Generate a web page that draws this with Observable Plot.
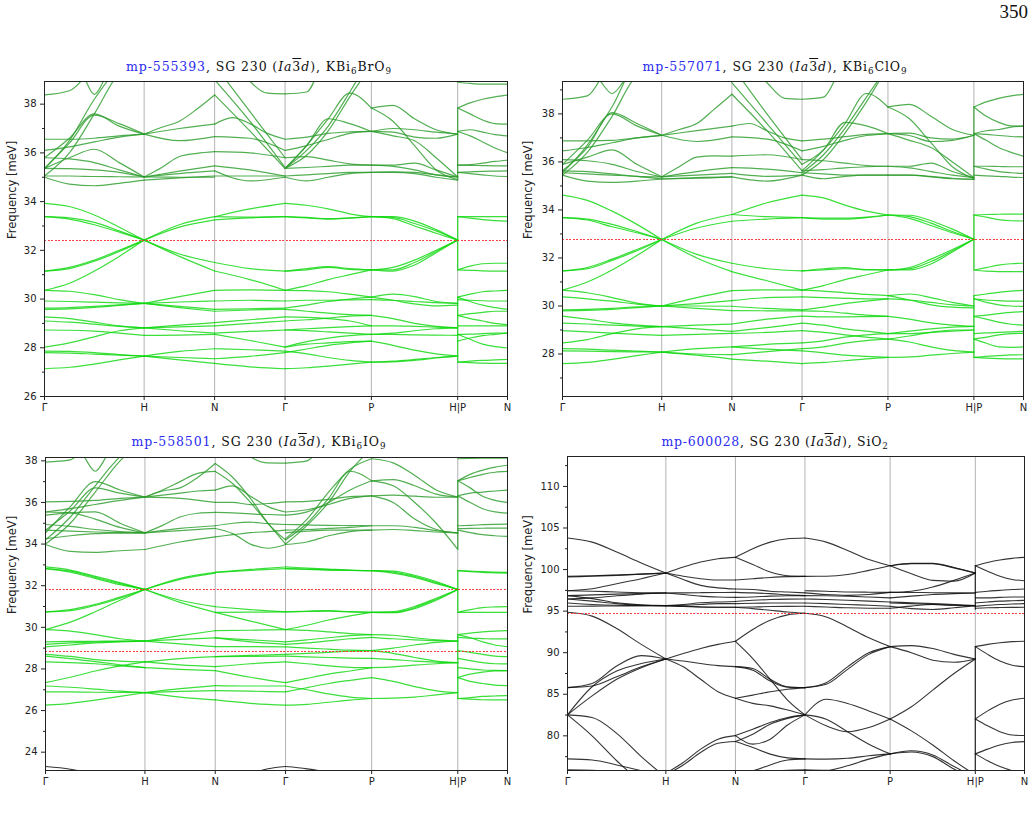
<!DOCTYPE html>
<html><head><meta charset="utf-8">
<script src="https://cdn.jsdelivr.net/npm/d3@7"></script>
<script src="https://cdn.jsdelivr.net/npm/@observablehq/plot@0.6"></script>
<style>
body{margin:0;background:#fff;}
#page{position:relative;width:1033px;height:823px;overflow:hidden;background:#fff;}
.panel{position:absolute;}
.title{position:absolute;width:500px;text-align:center;font-family:"DejaVu Serif",serif;font-size:12.5px;line-height:16px;height:16px;color:#111;white-space:nowrap;}
.title .mp{color:#2b2bf0;}
.title sub{font-size:0.7em;vertical-align:-0.3em;line-height:0;}
.ob{text-decoration:overline;}
#pg{position:absolute;left:990px;width:38px;text-align:right;top:1px;font-family:"Liberation Serif",serif;font-size:19px;color:#111;}
</style></head>
<body><div id="page"><div id="pg">350</div></div>
<script>
// ---- path (k-distance) ticks ----
const kTicks = [0, 1, 1.7071, 2.4142, 3.2802, 4.1463, 4.6463];
const kLabels = ["Γ", "H", "N", "Γ", "P", "H|P", "N"];

// ---- titles ----
const titleIds = ["mp-555393", "mp-557071", "mp-558501", "mp-600028"];
const titleFormulas = ["KBi<sub>6</sub>BrO<sub>9</sub>", "KBi<sub>6</sub>ClO<sub>9</sub>", "KBi<sub>6</sub>IO<sub>9</sub>", "SiO<sub>2</sub>"];

// ---- bands: [segment, values evenly spaced along the segment ...] ----
const brBands = [
[0,33.93,33.8,33.45,32.95,32.42],[0,33.38,33.33,33.15,32.8,32.42],[0,33.38,33.28,33.05,32.75,32.42],
[0,31.15,31.3,31.6,32.0,32.42],[0,31.15,31.25,31.55,31.95,32.42],[0,30.36,30.65,31.15,31.75,32.42],
[0,30.36,30.32,30.18,29.98,29.82],[0,29.92,29.9,29.87,29.84,29.82],[0,29.63,29.65,29.7,29.76,29.82],
[0,29.58,29.6,29.66,29.74,29.82],[0,29.27,29.2,29.05,28.9,28.82],[0,29.1,29.05,28.97,28.88,28.82],
[0,28.73,28.72,28.68,28.6,28.51],[0,28.03,28.2,28.45,28.7,28.82],[0,27.86,27.85,27.8,27.72,27.66],
[0,27.8,27.78,27.74,27.7,27.66],[0,27.14,27.2,27.33,27.5,27.66],
[0,38.38,38.55,39.5,40,40],[0,40,40,40,39.3,38.4,39.2,40,40,40],[0,35.36,36.5,38.2,39.5,40],
[0,35.05,36.0,37.6,39.3,40],[0,35.36,36.4,37.55,37.2,36.77],[0,35.8,36.6,37.6,37.1,36.77],
[0,35.36,35.8,36.15,35.6,35.01],[0,35.8,35.75,35.6,35.3,35.01],[0,36.56,36.56,36.6,36.7,36.77],
[0,36.1,36.25,36.45,36.65,36.77],[0,35.05,35.05,35.03,35.02,35.01],[0,35.0,34.72,34.65,34.75,34.88],
[0,35.36,35.35,35.3,35.2,35.01],
[1,32.42,33.05,33.38],[1,32.42,32.95,33.25],[1,32.42,31.85,31.5],[1,32.42,31.75,31.15],
[1,29.82,30.1,30.36],[1,29.82,29.88,29.92],[1,29.82,29.7,29.58],[1,29.82,29.65,29.5],
[1,28.82,28.93,29.03],[1,28.82,28.86,28.9],[1,28.82,28.7,28.6],[1,28.51,28.52,28.55],
[1,27.66,27.85,27.96],[1,27.66,27.5,27.36],[1,27.66,27.6,27.55],
[1,36.77,37.05,37.3,37.8,38.38],[1,36.77,37.0,37.18],[1,36.77,36.5,36.67],[1,35.01,35.4,35.85,35.98,36.05],
[1,35.01,35.25,35.47],[1,35.01,35.15,35.26],[1,34.88,34.97,35.05],[1,35.01,35.0,35.0],
[2,33.38,33.7,33.93],[2,33.25,33.33,33.38],[2,33.38,33.36,33.38],[2,31.5,31.25,31.15],[2,31.15,30.8,30.36],
[2,30.36,30.38,30.36],[2,29.92,29.95,29.92],[2,29.58,29.6,29.63],[2,29.5,29.55,29.58],
[2,29.03,29.15,29.27],[2,28.9,29.0,29.1],[2,28.6,28.67,28.73],[2,28.55,28.3,28.03],
[2,27.96,27.92,27.86],[2,27.55,27.65,27.8],[2,27.36,27.22,27.14],
[2,38.38,36.9,35.36],[2,39.0,37.3,35.4],[2,39.6,37.7,35.8],[2,37.18,37.45,37.2,36.8,36.56],
[2,36.67,36.6,36.1],[2,36.05,36.0,35.8],[2,35.47,35.3,35.05],[2,35.26,34.85,35.0],[2,35.05,35.05,35.05],
[2,40,40,38.95,38.45,38.42],
[3,33.93,33.85,33.7,33.5,33.38],[3,33.38,33.35,33.3,33.33,33.38],[3,33.38,33.33,33.28,33.32,33.38],
[3,31.15,31.25,31.33,31.25,31.2],[3,31.15,31.2,31.3,31.22,31.2],[3,30.36,30.55,30.8,31.0,31.2],
[3,30.36,30.35,30.3,30.2,30.08],[3,29.92,29.95,29.95,29.97,29.98],[3,29.63,29.75,29.9,30.0,30.08],
[3,29.58,29.5,29.42,29.36,29.33],[3,29.27,29.25,29.2,29.1,28.9],[3,29.1,29.15,29.22,29.3,29.33],
[3,28.73,28.7,28.65,28.6,28.55],[3,28.73,28.78,28.83,28.87,28.9],[3,28.03,28.25,28.4,28.5,28.55],
[3,28.03,28.15,28.2,28.25,28.27],[3,27.86,27.75,27.6,27.48,27.41],[3,27.8,27.95,28.1,28.2,28.27],
[3,27.14,27.18,27.25,27.33,27.41],
[3,38.42,38.5,40,40,40],[3,35.36,36.3,37.4,38.45,37.84],[3,35.36,36.1,37.1,38.5,40],
[3,35.36,35.9,36.9,38.3,39.6],[3,36.56,36.65,36.8,36.86,36.88],[3,36.1,36.3,36.55,36.8,36.88],
[3,35.8,35.85,35.7,35.55,35.5],[3,35.36,36.3,37.4,37.2,36.88],[3,35.36,35.4,35.45,35.5,35.5],
[3,35.05,35.1,35.15,35.2,35.2],[3,35.0,34.85,35.0,35.15,35.2],
[4,33.38,33.38,33.2,32.85,32.42],[4,33.38,33.35,33.1,32.8,32.42],[4,33.38,33.3,33.0,32.7,32.42],
[4,31.2,31.3,31.6,32.0,32.42],[4,31.2,31.2,31.5,31.95,32.42],[4,31.2,31.15,31.4,31.9,32.42],
[4,30.08,30.2,30.1,29.9,29.82],[4,29.98,29.95,29.9,29.85,29.82],[4,30.08,29.95,29.8,29.72,29.75],
[4,29.33,29.2,29.0,28.88,28.82],[4,28.9,28.9,28.88,28.85,28.82],[4,28.55,28.6,28.7,28.78,28.82],
[4,28.55,28.55,28.53,28.52,28.51],[4,28.27,28.1,27.9,27.75,27.66],[4,27.41,27.42,27.48,27.58,27.66],
[4,27.41,27.45,27.52,27.6,27.66],
[4,37.84,37.95,37.4,36.95,36.77],[4,37.84,37.3,36.3,35.3,34.9],[4,36.88,36.85,36.65,36.6,36.77],
[4,36.88,37.0,36.95,36.85,36.77],[4,36.88,36.7,36.5,35.8,35.01],[4,35.5,35.5,35.58,35.3,35.01],
[4,35.5,35.45,35.3,35.1,35.01],[4,35.2,35.2,35.15,35.0,34.88],[4,35.2,35.22,35.2,35.1,35.01],
[5,37.84,38.05,38.2,38.3,38.37],[5,37.84,37.6,37.35,37.2,37.18],[5,36.88,36.95,36.85,36.75,36.7],
[5,36.88,36.7,36.45,36.2,36.0],[5,35.5,35.52,35.58,35.65,35.7],[5,35.5,35.49,35.48,35.47,35.47],
[5,35.2,35.22,35.24,35.25,35.26],[5,35.2,35.15,35.1,35.05,35.03],[5,38.9,38.85,38.82,38.82,38.82],
[5,33.38,33.38,33.38,33.38,33.38],[5,33.38,33.32,33.26,33.22,33.2],[5,31.2,31.35,31.45,31.47,31.47],
[5,31.2,31.18,31.16,31.15,31.15],[5,30.08,30.2,30.3,30.33,30.36],[5,29.98,29.95,29.93,29.92,29.92],
[5,30.08,29.9,29.75,29.65,29.58],[5,29.33,29.4,29.45,29.5,29.5],[5,29.33,29.2,29.1,29.0,28.95],
[5,28.9,28.9,28.9,28.9,28.9],[5,28.55,28.56,28.58,28.6,28.6],[5,28.55,28.35,28.15,28.05,28.0],
[5,28.27,28.4,28.5,28.55,28.6],[5,27.41,27.45,27.48,27.5,27.52],[5,27.41,27.39,27.37,27.36,27.36]
];
const brJumps = [[31.2, 33.38], [27.41, 30.08], [34.88, 37.84]];
const brRefs = [32.42];

const clBands = [
[0,34.62,34.4,33.95,33.4,32.77],[0,33.68,33.62,33.4,33.1,32.77],[0,33.68,33.58,33.3,33.05,32.77],
[0,31.46,31.6,31.95,32.35,32.77],[0,31.46,31.55,31.9,32.3,32.77],[0,30.66,31.0,31.5,32.1,32.77],
[0,30.66,30.55,30.35,30.12,30.0],[0,30.38,30.3,30.2,30.08,30.0],[0,29.84,29.86,29.9,29.96,30.0],
[0,29.8,29.82,29.86,29.93,30.0],[0,29.58,29.45,29.3,29.2,29.14],[0,29.29,29.25,29.2,29.16,29.14],
[0,28.97,28.92,28.87,28.82,28.78],[0,28.46,28.6,28.85,29.05,29.14],[0,28.22,28.2,28.16,28.12,28.08],
[0,28.13,28.12,28.1,28.09,28.08],[0,27.6,27.65,27.78,27.93,28.08],
[0,38.61,38.75,40,40,40],[0,40,40,40,39.4,38.85,39.4,40,40,40],[0,35.55,36.7,38.3,40,40],
[0,35.45,36.4,37.9,39.6,40],[0,35.63,36.6,38.05,37.6,37.11],[0,35.9,36.9,38.0,37.5,37.11],
[0,36.88,36.88,36.9,37.0,37.11],[0,36.46,36.6,36.8,37.0,37.11],[0,35.9,36.2,36.5,35.9,35.38],
[0,36.1,36.05,35.9,35.6,35.38],[0,35.63,35.6,35.5,35.4,35.38],[0,35.55,35.5,35.45,35.4,35.29],
[0,35.45,35.2,35.15,35.2,35.29],
[1,32.77,33.45,33.81],[1,32.77,33.25,33.53],[1,32.77,32.15,31.78],[1,32.77,32.0,31.43],
[1,30.0,30.35,30.64],[1,30.0,30.1,30.22],[1,30.0,30.0,29.99],[1,30.0,29.9,29.81],
[1,29.14,29.2,29.25],[1,29.14,29.05,28.94],[1,28.78,28.82,28.86],[1,28.08,28.22,28.3],
[1,28.08,27.95,27.79],[1,28.08,28.0,27.97],
[1,37.11,37.35,37.6,38.2,38.82],[1,37.11,37.3,37.49],[1,37.11,36.85,37.04],[1,35.38,35.8,36.2,36.25,36.24],
[1,35.38,35.6,35.76],[1,35.38,35.45,35.52],[1,35.29,35.35,35.38],[1,35.29,35.32,35.38],
[2,33.81,34.3,34.62],[2,33.53,33.62,33.68],[2,33.81,33.72,33.68],[2,31.78,31.55,31.46],
[2,31.43,31.05,30.66],[2,30.64,30.67,30.66],[2,30.22,30.35,30.38],[2,29.99,29.9,29.84],
[2,29.81,29.8,29.8],[2,29.25,29.45,29.58],[2,28.94,29.1,29.29],[2,28.86,28.9,28.97],
[2,28.3,28.4,28.46],[2,27.97,28.1,28.22],[2,28.3,28.2,28.13],[2,27.79,27.7,27.6],
[2,38.82,37.3,35.63],[2,39.3,37.6,35.9],[2,40,38.0,36.1],[2,37.49,37.6,37.3,37.0,36.88],
[2,37.04,36.95,36.46],[2,36.24,36.3,36.1],[2,35.76,35.7,35.55],[2,35.52,35.4,35.45],[2,35.38,35.2,35.45],
[2,40,40,39.3,38.65,38.61],
[3,34.62,34.5,34.2,33.95,33.79],[3,33.68,33.66,33.66,33.7,33.79],[3,33.68,33.62,33.62,33.68,33.79],
[3,31.46,31.55,31.6,31.5,31.5],[3,31.46,31.5,31.55,31.52,31.5],[3,30.66,30.85,31.1,31.3,31.5],
[3,30.66,30.62,30.55,30.48,30.43],[3,30.38,30.35,30.32,30.3,30.3],[3,29.84,29.95,30.1,30.2,30.3],
[3,29.8,29.78,29.7,29.62,29.57],[3,29.58,29.55,29.55,29.56,29.57],[3,29.29,29.2,29.05,28.95,28.85],
[3,28.97,28.9,28.8,28.7,28.62],[3,28.46,28.55,28.7,28.8,28.85],[3,28.22,28.3,28.45,28.56,28.62],
[3,28.13,28.05,27.95,27.9,27.86],[3,27.6,27.65,27.72,27.8,27.86],
[3,38.61,38.7,40,40,40],[3,35.63,36.5,37.6,38.85,38.29],[3,35.55,36.3,37.4,38.7,40],
[3,35.45,36.1,37.2,38.5,40],[3,36.88,36.95,37.05,37.15,37.18],[3,36.46,36.65,36.9,37.1,37.18],
[3,35.9,36.5,37.65,37.5,37.18],[3,36.1,36.05,35.95,35.85,35.82],[3,35.63,35.68,35.75,35.8,35.82],
[3,35.55,35.5,35.45,35.45,35.45],[3,35.45,35.3,35.4,35.45,35.45],
[4,33.79,33.78,33.55,33.2,32.78],[4,33.79,33.72,33.45,33.1,32.78],[4,33.79,33.65,33.35,33.05,32.78],
[4,31.5,31.6,31.95,32.35,32.78],[4,31.5,31.55,31.85,32.3,32.78],[4,31.5,31.5,31.75,32.25,32.78],
[4,30.43,30.5,30.35,30.15,30.0],[4,30.3,30.25,30.15,30.05,30.0],[4,30.43,30.25,30.05,29.95,29.92],
[4,29.57,29.45,29.3,29.2,29.15],[4,28.85,28.95,29.05,29.12,29.15],[4,28.85,28.85,28.9,28.95,29.0],
[4,28.62,28.75,28.9,29.0,29.0],[4,28.62,28.5,28.3,28.15,28.08],[4,27.86,27.88,27.95,28.02,28.08],
[4,38.29,38.4,37.9,37.35,37.11],[4,38.29,37.8,36.8,35.8,35.3],[4,37.18,37.2,37.0,36.95,37.11],
[4,37.18,37.1,36.85,36.9,37.11],[4,37.18,36.9,36.6,36.0,35.35],[4,35.82,35.82,35.95,35.6,35.35],
[4,35.82,35.75,35.6,35.45,35.35],[4,35.45,35.45,35.4,35.32,35.27],[4,35.45,35.45,35.38,35.3,35.27],
[5,38.29,38.5,38.65,38.75,38.82],[5,38.29,37.9,37.65,37.5,37.49],[5,37.18,37.3,37.35,37.45,37.49],
[5,37.18,36.9,36.6,36.4,36.24],[5,35.82,35.82,35.81,35.8,35.8],[5,35.82,35.7,35.6,35.55,35.52],
[5,35.45,35.42,35.4,35.37,35.35],[5,37.18,37.15,37.1,37.06,37.04],
[5,33.79,33.81,33.82,33.83,33.83],[5,33.79,33.7,33.6,33.55,33.54],[5,31.5,31.6,31.7,31.76,31.78],
[5,31.5,31.45,31.43,31.43,31.43],[5,30.43,30.5,30.57,30.62,30.65],[5,30.3,30.25,30.22,30.2,30.2],
[5,30.3,30.15,30.05,30.0,29.98],[5,29.57,29.62,29.68,29.73,29.77],[5,29.57,29.45,29.33,29.24,29.2],
[5,28.85,28.88,28.9,28.92,28.94],[5,28.62,28.7,28.8,28.85,28.86],[5,28.62,28.45,28.3,28.28,28.3],
[5,27.86,27.9,27.93,27.96,27.97],[5,27.86,27.83,27.81,27.8,27.8]
];
const clJumps = [[31.5, 33.79], [27.86, 30.43], [35.27, 38.29]];
const clRefs = [32.77];

const ioBands = [
[0,37.94,38.05,39,39,39],[0,39,39,39,38.3,37.5,38.3,39,39,39],[0,34.2,35.3,36.8,38.2,39],
[0,34.0,35.0,36.5,38.0,39],[0,34.54,35.8,37.0,36.6,36.26],[0,34.67,35.6,36.7,36.45,36.26],
[0,35.39,35.5,35.55,35.0,34.54],[0,36.03,36.05,36.1,36.2,36.26],[0,35.54,35.7,35.9,36.1,36.26],
[0,35.54,35.5,35.2,34.8,34.54],[0,34.94,34.85,34.7,34.6,34.54],[0,34.67,34.62,34.58,34.55,34.54],
[0,34.26,34.4,34.5,34.53,34.54],[0,33.98,33.65,33.6,33.68,33.74],
[0,32.9,32.75,32.45,32.15,31.82],[0,32.82,32.7,32.4,32.1,31.82],[0,32.82,32.65,32.35,32.05,31.82],
[0,30.74,30.85,31.1,31.45,31.82],[0,30.74,30.8,31.05,31.4,31.82],[0,29.89,30.25,30.75,31.3,31.82],
[0,29.89,29.82,29.65,29.45,29.34],[0,29.3,29.32,29.33,29.34,29.34],[0,29.18,29.25,29.3,29.32,29.34],
[0,29.06,29.15,29.25,29.3,29.34],[0,28.7,28.6,28.45,28.38,28.34],[0,28.62,28.5,28.35,28.2,28.06],
[0,28.34,28.3,28.25,28.15,28.06],[0,27.34,27.6,27.9,28.15,28.34],[0,27.18,27.12,27.03,26.93,26.86],
[0,26.9,26.9,26.88,26.87,26.86],[0,26.26,26.35,26.5,26.68,26.86],[0,23.31,23.18,22.9,22.5,22.2],
[1,31.82,32.35,32.64],[1,31.82,32.3,32.6],[1,31.82,31.3,30.99],[1,31.82,31.2,30.72],
[1,29.34,29.6,29.84],[1,29.34,29.42,29.49],[1,29.34,29.2,29.07],[1,28.34,28.5,28.59],
[1,28.34,28.2,28.11],[1,28.06,27.98,27.92],[1,26.86,27.05,27.2],[1,26.86,26.92,26.96],[1,26.86,26.65,26.51],
[1,36.26,36.2,36.0],[1,36.26,36.6,37.0,37.4,37.49],[1,36.26,36.55,36.7,37.2,37.87],
[1,36.26,36.35,36.45,36.55,36.59],[1,34.54,34.9,35.3,35.48,35.52],[1,34.54,34.75,34.88],
[1,34.54,34.65,34.75],[1,33.74,34.1,34.35],
[2,32.64,32.78,32.9],[2,32.64,32.74,32.82],[2,30.99,30.85,30.74],[2,30.72,30.3,29.89],
[2,30.72,30.73,30.74],[2,29.84,29.86,29.89],[2,29.49,29.4,29.3],[2,29.49,29.3,29.18],
[2,29.07,29.07,29.06],[2,28.59,28.65,28.7],[2,28.59,28.6,28.62],[2,28.11,28.25,28.34],
[2,27.92,27.6,27.34],[2,27.2,27.18,27.18],[2,26.96,26.93,26.9],[2,26.51,26.35,26.26],
[2,22.2,22.6,22.95,23.2,23.31],
[2,39,39,38.2,37.9,37.89],[2,37.87,37.2,36.2,35.0,34.2],[2,37.49,36.9,36.0,35.0,34.0],
[2,36.59,36.8,36.3,35.8,35.54],[2,36.0,36.0,35.9,35.95,36.03],[2,35.52,35.5,35.45,35.42,35.39],
[2,34.88,35.0,35.05,34.98,34.94],[2,34.75,34.5,34.0,33.8,33.98],[2,34.35,34.45,34.55,34.6,34.67],
[3,32.9,32.85,32.8,32.75,32.72],[3,32.82,32.78,32.75,32.73,32.72],[3,32.82,32.8,32.76,32.74,32.72],
[3,30.74,30.78,30.8,30.75,30.72],[3,30.74,30.76,30.78,30.74,30.72],[3,29.89,30.1,30.35,30.55,30.72],
[3,29.89,29.85,29.78,29.7,29.65],[3,29.3,29.4,29.5,29.6,29.65],[3,29.18,29.25,29.35,29.45,29.52],
[3,29.06,29.0,28.95,28.9,28.88],[3,28.7,28.75,28.8,28.85,28.88],[3,28.62,28.58,28.55,28.52,28.51],
[3,28.34,28.25,28.15,28.08,28.06],[3,27.34,27.55,27.75,27.9,28.06],[3,27.18,27.0,26.8,26.65,26.58],
[3,26.9,27.1,27.3,27.45,27.58],[3,26.26,26.3,26.4,26.5,26.58],[3,23.31,23.2,23.02,22.7,22.4],
[3,37.89,38.0,39,39,39],[3,34.2,35.0,36.2,37.5,37.04],[3,34.0,34.9,36.0,37.5,38.6],
[3,36.03,36.05,36.15,36.28,36.32],[3,35.54,35.65,35.9,36.2,36.32],[3,35.39,35.55,36.0,36.6,37.04],
[3,34.94,34.92,34.9,34.89,34.88],[3,34.67,34.7,34.75,34.8,34.88],[3,34.54,34.62,34.67,34.67,34.67],
[3,33.98,34.1,34.4,34.6,34.67],[3,34.26,35.2,36.5,37.6,38.1],
[4,32.72,32.7,32.5,32.2,31.82],[4,32.72,32.65,32.45,32.15,31.82],[4,32.72,32.6,32.4,32.1,31.82],
[4,30.72,30.75,31.0,31.4,31.82],[4,30.72,30.72,30.95,31.35,31.82],[4,30.72,30.7,30.9,31.3,31.82],
[4,29.65,29.62,29.5,29.4,29.34],[4,29.52,29.45,29.4,29.36,29.34],[4,28.88,29.0,29.15,29.28,29.34],
[4,28.88,28.75,28.55,28.38,28.3],[4,28.51,28.45,28.38,28.33,28.3],[4,28.06,28.1,28.18,28.25,28.3],
[4,27.58,27.4,27.15,26.95,26.86],[4,26.58,26.6,26.65,26.75,26.86],
[4,37.04,36.8,36.0,35.0,33.74],[4,37.04,37.1,36.8,36.4,36.26],[4,36.32,36.35,36.3,36.25,36.26],
[4,36.32,36.0,35.2,34.7,34.54],[4,34.88,34.88,34.8,34.65,34.54],[4,34.67,34.7,34.65,34.58,34.54],
[4,38.1,37.9,37.3,36.6,36.26],
[5,37.04,37.35,37.55,37.7,37.79],[5,37.04,37.2,37.35,37.45,37.49],[5,37.04,36.7,36.3,36.1,36.0],
[5,36.32,36.45,36.5,36.55,36.59],[5,36.32,36.0,35.7,35.55,35.49],[5,38.1,38.12,38.13,38.13,38.13],
[5,34.88,34.9,34.93,34.95,34.96],[5,34.74,34.75,34.76,34.77,34.77],[5,34.67,34.55,34.45,34.4,34.37],
[5,32.72,32.7,32.68,32.65,32.64],[5,32.72,32.68,32.64,32.62,32.6],[5,30.72,30.85,30.95,30.98,30.99],
[5,30.72,30.72,30.72,30.72,30.72],[5,29.65,29.72,29.78,29.82,29.84],[5,29.52,29.48,29.46,29.44,29.44],
[5,29.65,29.5,29.3,29.15,29.07],[5,28.88,28.8,28.7,28.62,28.59],[5,28.51,28.4,28.3,28.25,28.24],
[5,28.06,28.0,27.95,27.93,27.92],[5,27.58,27.4,27.3,27.22,27.2],[5,27.58,27.75,27.85,27.9,27.92],
[5,26.58,26.62,26.68,26.7,26.72],[5,26.58,26.55,26.52,26.51,26.51]
];
const ioJumps = [[30.72, 32.72], [26.58, 29.65], [33.74, 37.04]];
const ioRefs = [31.8, 28.85];

const siBands = [
[0,103.79,103.3,102.1,100.8,99.58],[0,99.18,99.25,99.35,99.45,99.58],[0,99.1,99.2,99.3,99.45,99.58],
[0,97.46,97.7,98.3,98.9,99.58],[0,97.46,97.4,97.3,97.22,97.18],[0,96.86,96.95,97.05,97.12,97.18],
[0,96.46,96.6,96.85,97.05,97.18],[0,96.86,96.5,96.0,95.75,95.66],[0,96.46,96.2,95.9,95.7,95.66],
[0,95.98,95.8,95.7,95.66,95.66],[0,95.58,95.6,95.62,95.64,95.66],[0,94.86,94.4,92.9,91.0,89.25],
[0,85.8,86.3,88.4,89.65,89.25],[0,85.8,86.0,87.1,88.3,89.25],[0,82.52,84.8,86.8,88.2,89.25],
[0,82.52,85.9,87.8,88.7,89.25],[0,82.52,82.2,80.3,77.5,75],[0,82.52,80.0,77.0,74.5,73],
[0,77.23,77.1,76.5,75.8,75],[0,75.9,75.85,75.7,75.5,75.3],
[1,99.58,100.3,100.9,101.3,101.47],[1,99.58,99.2,98.9,98.75,98.74],[1,99.58,98.8,98.1,97.8,97.66],
[1,97.18,97.2,97.22,97.24,97.26],[1,97.18,97.0,96.8,96.7,96.66],[1,95.66,95.6,95.5,95.46,95.46],
[1,95.66,95.8,96.0,96.1,96.16],[1,95.66,95.7,95.8,95.9,95.9],[1,95.66,95.55,95.5,95.47,95.46],
[1,89.25,89.9,90.5,91.0,91.37],[1,89.25,89.0,88.7,88.45,88.32],[1,89.25,88.3,86.8,85.3,84.52],
[1,75.5,76.8,78.4,79.6,80.03],[1,75.3,76.5,78.0,79.1,79.31],
[2,101.47,102.5,103.3,103.7,103.79],[2,101.47,100.6,99.7,99.25,99.18],[2,98.74,98.9,99.05,99.15,99.18],
[2,97.66,97.6,97.4,97.3,97.2],[2,97.26,97.2,97.1,96.95,96.86],[2,96.66,96.7,96.8,96.85,96.86],
[2,96.16,96.3,96.4,96.45,96.46],[2,95.9,95.95,95.97,95.98,95.98],[2,95.46,95.5,95.55,95.57,95.58],
[2,95.46,95.3,95.1,94.9,94.74],[2,91.37,92.8,93.9,94.55,94.74],[2,91.37,89.3,86.8,84.3,82.52],
[2,88.32,88.1,86.8,85.9,85.8],[2,88.32,87.9,86.6,85.85,85.8],[2,84.52,84.9,85.3,85.6,85.8],
[2,84.52,83.9,83.6,83.1,82.52],[2,80.03,80.8,81.6,82.2,82.52],[2,79.31,80.2,81.4,82.1,82.52],
[2,80.03,79.0,79.6,81.3,82.52],[2,79.31,78.6,77.8,77.35,77.23],[2,75.6,75.8,76.5,77.1,77.23],
[2,75.5,75.6,75.75,75.85,75.9],
[3,103.79,103.3,102.3,101.2,100.46],[3,99.18,99.2,99.4,99.9,100.46],[3,97.46,97.4,97.3,97.28,97.26],
[3,97.2,97.0,96.9,97.0,97.26],[3,96.86,96.85,96.8,96.7,96.6],[3,96.46,96.4,96.3,96.2,96.1],
[3,95.98,95.9,95.8,95.7,95.58],[3,95.58,95.5,95.4,95.35,95.34],[3,94.74,94.3,93.1,91.8,90.73],
[3,85.8,86.4,88.3,90.0,90.73],[3,85.8,86.2,88.0,89.8,90.73],[3,82.52,84.4,83.9,83.0,82.03],
[3,82.52,81.2,80.5,81.0,82.03],[3,82.52,82.0,80.5,79.0,77.83],[3,77.23,77.2,77.3,77.6,77.83],
[3,75.9,75.85,76.4,77.2,77.83],
[4,100.46,100.7,100.7,100.2,99.58],[4,100.46,100.75,100.75,100.25,99.58],[4,100.46,99.5,98.7,98.6,99.58],
[4,97.26,97.4,97.9,98.7,99.58],[4,96.6,96.8,97.0,97.1,97.18],[4,97.26,97.25,97.22,97.2,97.18],
[4,96.1,96.0,95.9,95.8,95.66],[4,95.98,95.9,95.8,95.7,95.66],[4,95.58,95.3,95.2,95.4,95.66],
[4,95.34,95.6,95.8,95.7,95.66],[4,90.73,90.85,90.5,89.8,89.25],[4,90.73,90.0,89.1,88.85,89.25],
[4,82.03,83.5,85.5,87.5,89.25],[4,82.03,80.6,78.9,77.0,75.3],[4,77.83,78.2,77.7,76.3,75.0],
[4,77.83,78.05,77.5,76.0,74.8],
[5,100.46,100.85,101.15,101.35,101.47],[5,100.46,99.8,99.2,98.8,98.66],[5,97.26,97.4,97.5,97.6,97.66],
[5,96.6,96.6,96.65,96.7,96.7],[5,95.98,96.1,96.2,96.25,96.3],[5,95.58,95.7,95.8,95.85,95.9],
[5,95.34,95.4,95.43,95.45,95.46],[5,90.73,91.0,91.2,91.33,91.37],[5,90.73,89.8,89.0,88.5,88.32],
[5,82.03,83.0,83.8,84.3,84.52],[5,82.03,81.2,80.5,80.1,80.03],[5,77.83,78.4,78.9,79.2,79.31],
[5,77.83,77.0,76.3,75.8,75.4]
];
const siJumps = [[95.1, 100.46], [75, 90.73]];
const siRefs = [94.72];

// ---- axis domains / ticks ----
const brDomain = [26, 38.93], clDomain = [26.23, 39.35], ioDomain = [23.12, 38.16], siDomain = [75.83, 113.6];
const brMajor = [26, 28, 30, 32, 34, 36, 38], brMinor = [27, 29, 31, 33, 35, 37];
const clMajor = [28, 30, 32, 34, 36, 38], clMinor = [27, 29, 31, 33, 35, 37, 39];
const ioMajor = [24, 26, 28, 30, 32, 34, 36, 38], ioMinor = [25, 27, 29, 31, 33, 35, 37];
const siMajor = [80, 85, 90, 95, 100, 105, 110], siMinor = [77.5, 82.5, 87.5, 92.5, 97.5, 102.5, 107.5, 112.5];

// ---- layout (styles/positions) ----
const layout = [
  {bands: brBands, jumps: brJumps, refs: brRefs, dom: brDomain, major: brMajor, minor: brMinor, split: 34.3,
   left: 0, top: 75, h: 346, ml: 44, mr: 8, mt: 6, ldx: -32.5, tx: 259, ty: 59, tw: 266},
  {bands: clBands, jumps: clJumps, refs: clRefs, dom: clDomain, major: clMajor, minor: clMinor, split: 34.9,
   left: 517, top: 75, h: 346, ml: 45, mr: 9, mt: 6, ldx: -34, tx: 775, ty: 59, tw: 265},
  {bands: ioBands, jumps: ioJumps, refs: ioRefs, dom: ioDomain, major: ioMajor, minor: ioMinor, split: 33.3,
   left: 0, top: 450, h: 345, ml: 45, mr: 8, mt: 7, ldx: -33, tx: 259, ty: 434, tw: 255},
  {bands: siBands, jumps: siJumps, refs: siRefs, dom: siDomain, major: siMajor, minor: siMinor, split: null,
   left: 517, top: 450, h: 345, ml: 50, mr: 8, mt: 6, ldx: -39, tx: 775, ty: 434, tw: 227}
];

const page = document.getElementById("page");
const COL = {lower: "#0fd80f", upper: "#2c9c2c", black: "#111"};

function groupOf(vals, split) {
  if (split === null) return "black";
  const mx = Math.max(...vals), mn = Math.min(...vals);
  if (mx < 24) return "black";
  return mn > split ? "upper" : "lower";
}

layout.forEach((p, pi) => {
  const rows = [];
  p.bands.forEach((c, id) => {
    const s = c[0], vals = c.slice(1), n = vals.length;
    const a = kTicks[s], b = kTicks[s + 1];
    const g = groupOf(vals, p.split);
    vals.forEach((v, i) => rows.push({k: a + (b - a) * i / (n - 1), e: v, id, g}));
  });
  const jumps = p.jumps.map(j => ({lo: j[0], hi: j[1], g: groupOf(j, p.split)}));
  const lineMarks = [], jumpMarks = [];
  ["lower", "upper", "black"].forEach(g => {
    lineMarks.push(Plot.line(rows.filter(r => r.g === g), {x: "k", y: "e", z: "id", stroke: COL[g],
      strokeWidth: g === "black" ? 1.1 : 1.2, strokeOpacity: g === "black" ? 0.85 : 0.82, curve: "monotone-x", clip: true}));
    const jj = jumps.filter(j => j.g === g);
    if (jj.length) jumpMarks.push(Plot.ruleX(jj, {x: () => kTicks[5], y1: "lo", y2: "hi", stroke: COL[g],
      strokeWidth: 1.2, strokeOpacity: 0.85, clip: true}));
  });
  const chart = Plot.plot({
    width: 515, height: p.h, marginLeft: p.ml, marginRight: p.mr, marginTop: p.mt, marginBottom: 25,
    x: {domain: [0, kTicks[6]]},
    y: {domain: p.dom},
    style: {fontFamily: "'DejaVu Sans', sans-serif", fontSize: "10px", color: "#222", background: "transparent", overflow: "visible"},
    marks: [
      Plot.ruleX(kTicks.slice(1, 6), {stroke: "#8a8a8a", strokeOpacity: 0.65, strokeWidth: 1}),
      ...lineMarks,
      ...jumpMarks,
      Plot.ruleY(p.refs, {stroke: "#ff2a2a", strokeWidth: 1, strokeOpacity: 0.9, strokeDasharray: "2,1.5", shapeRendering: "crispEdges"}),
      Plot.frame({stroke: "#222", strokeWidth: 1}),
      Plot.axisX({ticks: kTicks, tickFormat: d => kLabels[kTicks.indexOf(d)], tickSize: 4, tickPadding: 3, label: null}),
      Plot.axisY({ticks: p.major, tickSize: 4, tickPadding: 4, label: null}),
      Plot.axisY({ticks: p.minor, tickSize: 2, tickFormat: () => "", label: null}),
      Plot.text(["Frequency [meV]"], {text: d => d, frameAnchor: "left", dx: p.ldx, rotate: -90, fontSize: 11.5, fill: "#222"})
    ]
  });
  const holder = document.createElement("div");
  holder.className = "panel";
  holder.style.left = p.left + "px";
  holder.style.top = p.top + "px";
  holder.appendChild(chart);
  page.appendChild(holder);

  const t = document.createElement("div");
  t.className = "title";
  t.style.left = (p.tx - 250) + "px";
  t.style.top = p.ty + "px";
  t.innerHTML = '<span class="tt"><span class="mp">' + titleIds[pi] + '</span>, SG 230 (<i>Ia</i><span class="ob">3</span><i>d</i>), ' + titleFormulas[pi] + '</span>';
  page.appendChild(t);
  const span = t.querySelector(".tt");
  const w = span.getBoundingClientRect().width;
  const n = span.textContent.length;
  span.style.letterSpacing = ((p.tw - w) / n).toFixed(3) + "px";
});
</script>
</body></html>
